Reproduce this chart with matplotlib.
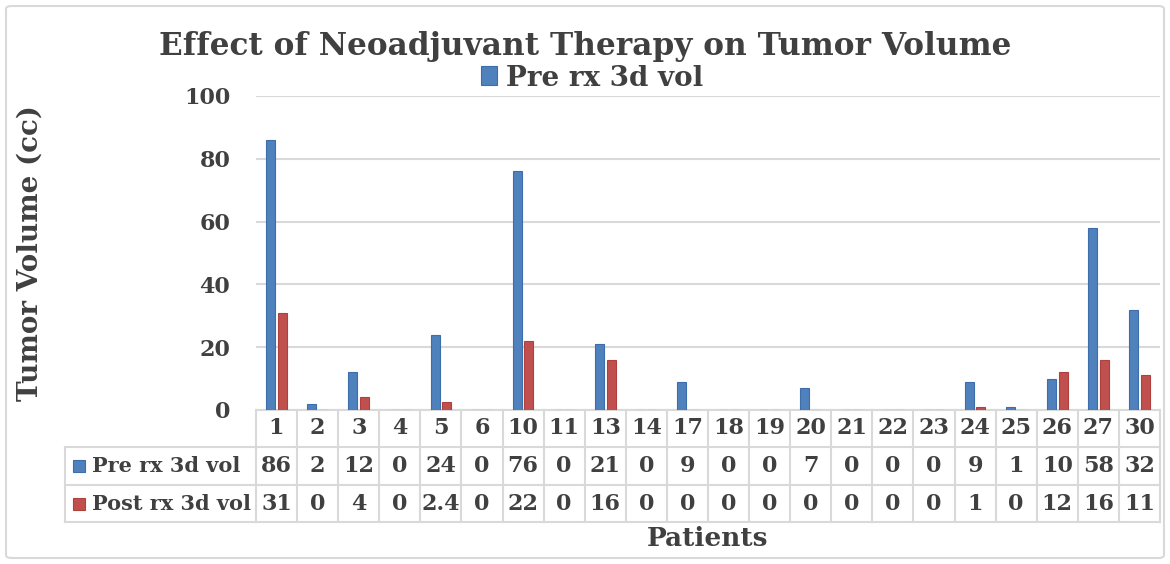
import matplotlib
matplotlib.use("Agg")
import matplotlib.pyplot as plt
import matplotlib.transforms as mtransforms
from matplotlib.patches import FancyBboxPatch, Rectangle

patients = ['1', '2', '3', '4', '5', '6', '10', '11', '13', '14', '17', '18',
            '19', '20', '21', '22', '23', '24', '25', '26', '27', '30']
pre_vol = [86, 2, 12, 0, 24, 0, 76, 0, 21, 0, 9, 0, 0, 7, 0, 0, 0, 9, 1, 10, 58, 32]
post_vol = [31, 0, 4, 0, 2.4, 0, 22, 0, 16, 0, 0, 0, 0, 0, 0, 0, 0, 1, 0, 12, 16, 11]
series_names = ['Pre rx 3d vol', 'Post rx 3d vol']
yticks = [0, 20, 40, 60, 80, 100]

BLUE = '#4F81BD'
RED = '#C0504D'
BLUE_E = '#3D6DAA'
RED_E = '#B0403D'
TXT = '#404040'
GRID = '#D9D9D9'
SERIF = 'DejaVu Serif'

W, H = 1170, 564
fig = plt.figure(figsize=(W / 100, H / 100), dpi=100)

# outer border
fig.patches.append(FancyBboxPatch((6 / W, 6 / H), 1 - 12 / W, 1 - 12 / H,
                                  boxstyle='round,pad=0,rounding_size=0.005',
                                  transform=fig.transFigure, fill=False,
                                  edgecolor=GRID, linewidth=1.5))

left, right, top, bottom = 256, 1160, 96, 410
ax = fig.add_axes([left / W, 1 - bottom / H, (right - left) / W, (bottom - top) / H])

n = len(patients)
x = list(range(n))
bw = 0.22
ax.bar([i - 0.14 for i in x], pre_vol, width=bw, color=BLUE, edgecolor=BLUE_E,
       linewidth=0.8, zorder=3, label=series_names[0])
ax.bar([i + 0.14 for i in x], post_vol, width=bw, color=RED, edgecolor=RED_E,
       linewidth=0.8, zorder=3)

ax.set_xlim(-0.5, n - 0.5)
ax.set_ylim(0, 100)
ax.set_yticks(yticks)
ax.set_yticklabels([str(t) for t in yticks], fontsize=16, fontweight='bold',
                   color=TXT, family=SERIF)
ax.tick_params(axis='y', length=0, pad=18.5)
ax.set_xticks([])
for s in ax.spines.values():
    s.set_visible(False)
ax.grid(axis='y', color=GRID, linewidth=1.5, zorder=0)

ax.set_ylabel('Tumor Volume (cc)', fontsize=20, fontweight='bold', color=TXT,
              family=SERIF, labelpad=0)
ax.yaxis.set_label_coords(-212 / (right - left), 0.5)

# data table
tr = mtransforms.blended_transform_factory(ax.transData, ax.transAxes)
ph = bottom - top
rows_y = [0, -37 / ph, -75 / ph, -112 / ph]
colw = (right - left) / n
lab_left = -0.5 - (left - 65) / colw
lw = 1.5
ax.plot([-0.5, n - 0.5], [rows_y[0]] * 2, color=GRID, lw=lw, transform=tr, clip_on=False)
for yy in rows_y[1:]:
    ax.plot([lab_left, n - 0.5], [yy] * 2, color=GRID, lw=lw, transform=tr, clip_on=False)
for i in range(n + 1):
    ax.plot([i - 0.5] * 2, [rows_y[0], rows_y[3]], color=GRID, lw=lw, transform=tr, clip_on=False)
ax.plot([lab_left] * 2, [rows_y[1], rows_y[3]], color=GRID, lw=lw, transform=tr, clip_on=False)


def fmt(v):
    return f'{v:g}'


for i, p in enumerate(patients):
    ax.text(i, (rows_y[0] + rows_y[1]) / 2, p, transform=tr, ha='center', va='center',
            fontsize=16, fontweight='bold', color=TXT, family=SERIF)
    ax.text(i, (rows_y[1] + rows_y[2]) / 2, fmt(pre_vol[i]), transform=tr, ha='center',
            va='center', fontsize=16, fontweight='bold', color=TXT, family=SERIF)
    ax.text(i, (rows_y[2] + rows_y[3]) / 2, fmt(post_vol[i]), transform=tr, ha='center',
            va='center', fontsize=16, fontweight='bold', color=TXT, family=SERIF)

for k, (name, col, ec) in enumerate(zip(series_names, [BLUE, RED], [BLUE_E, RED_E])):
    yc = (rows_y[k + 1] + rows_y[k + 2]) / 2
    sq = 12 / colw
    sqh = 12 / ph
    ax.add_patch(Rectangle((lab_left + 8 / colw, yc - sqh / 2), sq, sqh, facecolor=col,
                           edgecolor=ec, lw=0.8, transform=tr, clip_on=False))
    ax.text(lab_left + 27 / colw, yc, name, transform=tr, ha='left', va='center',
            fontsize=15, fontweight='bold', color=TXT, family=SERIF)

# x label
fig.text((left + right) / 2 / W, 1 - 538 / H, 'Patients', ha='center', va='center',
         fontsize=19, fontweight='bold', color=TXT, family=SERIF)

# title
fig.text(585 / W, 1 - 46 / H, 'Effect of Neoadjuvant Therapy on Tumor Volume',
         ha='center', va='center', fontsize=22.4, fontweight='bold', color=TXT,
         family=SERIF)

# legend
leg = ax.legend(loc='center', bbox_to_anchor=(592 / W, 1 - 78 / H),
                bbox_transform=fig.transFigure, frameon=False,
                prop={'family': SERIF, 'weight': 'bold', 'size': 20},
                handlelength=0.6, handleheight=0.65, handletextpad=0.32)
for t in leg.get_texts():
    t.set_color(TXT)

fig.savefig('out.png', dpi=100)
